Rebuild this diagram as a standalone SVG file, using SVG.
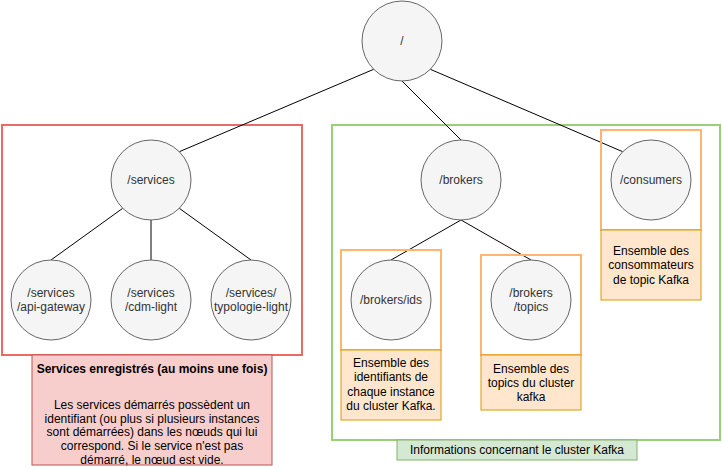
<svg xmlns="http://www.w3.org/2000/svg" width="722" height="471" viewBox="0 0 722 471">
  <style>
    text { font-family: "Liberation Sans", Arial, Helvetica, sans-serif; font-size: 12px; text-anchor: middle; }
    .node circle { fill: #f5f5f5; stroke: #666666; stroke-width: 1; }
    .node text { fill: #333333; }
    .edge { stroke: #000000; stroke-width: 1; fill: none; }
    .frame-red { fill: none; stroke: #EA6B66; stroke-width: 2; }
    .frame-green { fill: none; stroke: #97D077; stroke-width: 2; }
    .frame-orange { fill: none; stroke: #FFB570; stroke-width: 2; }
    .note-orange rect { fill: #ffe6cc; stroke: #d79b00; stroke-width: 1; }
    .note-pink rect { fill: #f8cecc; stroke: #b85450; stroke-width: 1; }
    .note-green rect { fill: #d5e8d4; stroke: #82b366; stroke-width: 1; }
    .note text { fill: #000000; }
    .bold { font-weight: bold; }
  </style>

  <rect width="722" height="471" fill="#ffffff"/>

  <!-- grouping frames -->
  <g id="frames">
    <rect class="frame-red" x="2" y="125" width="300" height="230"/>
    <rect class="frame-green" x="332" y="125" width="388" height="315"/>
  </g>

  <!-- tree connectors -->
  <g id="connectors">
    <line class="edge" x1="373.7" y1="69.3" x2="179.3" y2="151.7"/>
    <line class="edge" x1="402" y1="81" x2="461" y2="140"/>
    <line class="edge" x1="430.3" y1="69.3" x2="622.7" y2="151.7"/>
    <line class="edge" x1="122.7" y1="208.3" x2="51" y2="260"/>
    <line class="edge" x1="151" y1="220" x2="151" y2="260"/>
    <line class="edge" x1="179.3" y1="208.3" x2="251" y2="260"/>
    <line class="edge" x1="461" y1="220" x2="391" y2="260"/>
    <line class="edge" x1="461" y1="220" x2="531" y2="260"/>
  </g>

  <!-- highlight frames around Kafka nodes -->
  <g id="highlights">
    <rect class="frame-orange" x="601" y="130" width="100" height="100"/>
    <rect class="frame-orange" x="341" y="250" width="100" height="100"/>
    <rect class="frame-orange" x="481" y="255" width="100" height="100"/>
  </g>

  <!-- znodes -->
  <g id="root" class="node">
    <circle cx="402" cy="41" r="40"/>
    <text x="402" y="45">/</text>
  </g>
  <g id="services" class="node">
    <circle cx="151" cy="180" r="40"/>
    <text x="151" y="184">/services</text>
  </g>
  <g id="api-gateway" class="node">
    <circle cx="51" cy="300" r="40"/>
    <text x="51" y="297">/services</text>
    <text x="51" y="311">/api-gateway</text>
  </g>
  <g id="cdm-light" class="node">
    <circle cx="151" cy="300" r="40"/>
    <text x="151" y="297">/services</text>
    <text x="151" y="311">/cdm-light</text>
  </g>
  <g id="typologie-light" class="node">
    <circle cx="251" cy="300" r="40"/>
    <text x="251" y="297">/services/</text>
    <text x="251" y="311">typologie-light</text>
  </g>
  <g id="brokers" class="node">
    <circle cx="461" cy="180" r="40"/>
    <text x="461" y="184">/brokers</text>
  </g>
  <g id="consumers" class="node">
    <circle cx="651" cy="180" r="40"/>
    <text x="651" y="184">/consumers</text>
  </g>
  <g id="brokers-ids" class="node">
    <circle cx="391" cy="300" r="40"/>
    <text x="391" y="304">/brokers/ids</text>
  </g>
  <g id="brokers-topics" class="node">
    <circle cx="531" cy="300" r="40"/>
    <text x="531" y="297">/brokers</text>
    <text x="531" y="311">/topics</text>
  </g>

  <!-- notes -->
  <g id="note-services" class="note note-pink">
    <rect x="32" y="355" width="240" height="110"/>
    <text class="bold" x="152" y="373">Services enregistrés (au moins une fois)</text>
    <text x="152" y="409">Les services démarrés possèdent un</text>
    <text x="152" y="423">identifiant (ou plus si plusieurs instances</text>
    <text x="152" y="436">sont démarrées) dans les nœuds qui lui</text>
    <text x="152" y="450">correspond. Si le service n'est pas</text>
    <text x="152" y="464">démarré, le nœud est vide.</text>
  </g>
  <g id="note-consumers" class="note note-orange">
    <rect x="601" y="230" width="100" height="70"/>
    <text x="651" y="255">Ensemble des</text>
    <text x="651" y="269">consommateurs</text>
    <text x="651" y="283.5">de topic Kafka</text>
  </g>
  <g id="note-ids" class="note note-orange">
    <rect x="341" y="350" width="100" height="70"/>
    <text x="391" y="367">Ensemble des</text>
    <text x="391" y="381">identifiants de</text>
    <text x="391" y="396">chaque instance</text>
    <text x="391" y="410">du cluster Kafka.</text>
  </g>
  <g id="note-topics" class="note note-orange">
    <rect x="481" y="355" width="100" height="55"/>
    <text x="531" y="372.5">Ensemble des</text>
    <text x="531" y="386.5">topics du cluster</text>
    <text x="531" y="401">kafka</text>
  </g>
  <g id="note-kafka" class="note note-green">
    <rect x="397" y="440" width="240" height="20"/>
    <text x="517" y="454">Informations concernant le cluster Kafka</text>
  </g>
</svg>
